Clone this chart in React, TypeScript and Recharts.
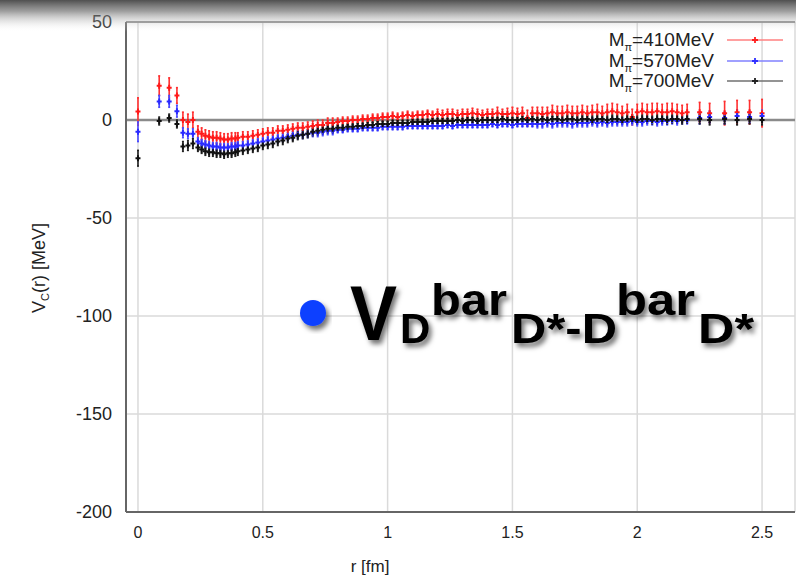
import { ScatterChart, Scatter, XAxis, YAxis, CartesianGrid, ErrorBar, ReferenceLine } from 'recharts'

// lattice distances r [fm], shared by the three ensembles
const rVals = [
  0, 0.085, 0.125, 0.156, 0.18, 0.2, 0.22, 0.24, 0.255, 0.27, 0.285, 0.3, 0.315, 0.33, 0.345, 0.36, 0.375, 0.39,
  0.4, 0.42, 0.44, 0.46, 0.48, 0.5, 0.52, 0.54, 0.56, 0.58,
  0.6, 0.62, 0.64, 0.66, 0.68, 0.7, 0.72, 0.74, 0.76, 0.78,
  0.8, 0.82, 0.84, 0.86, 0.88, 0.9, 0.92, 0.94, 0.96, 0.98,
  1.0, 1.02, 1.04, 1.06, 1.08, 1.1, 1.12, 1.14, 1.16, 1.18,
  1.2, 1.22, 1.24, 1.26, 1.28, 1.3, 1.32, 1.34, 1.36, 1.38,
  1.4, 1.42, 1.44, 1.46, 1.48, 1.5, 1.52, 1.54, 1.56, 1.58,
  1.6, 1.62, 1.64, 1.66, 1.68, 1.7, 1.72, 1.74, 1.76, 1.78,
  1.8, 1.82, 1.84, 1.86, 1.88, 1.9, 1.92, 1.94, 1.96, 1.98,
  2.0, 2.02, 2.04, 2.06, 2.08, 2.1, 2.12, 2.14, 2.16, 2.18,
  2.2, 2.25, 2.29, 2.35, 2.4, 2.45, 2.5,
]

// M_pi = 410 MeV
const v410 = [
  4.3, 17.5, 16.5, 12.5, 0, -1, 0, -6, -7, -8, -8.5, -9, -9, -9.5, -10, -10, -9.5, -9.5,
  -9, -8.5, -8.5, -8, -7.5, -7, -6.5, -6.5, -5.5, -5.5,
  -5, -4.5, -4, -4, -3.5, -3, -2.5, -2.5, -1.5, -1.5,
  -1, -0.5, -0.5, 0, 0, 0.5, 0.5, 1, 1, 1.5,
  1.5, 2, 1.5, 2, 2.5, 2, 2.5, 2.5, 3, 2.5,
  3, 2.5, 3, 3, 2.5, 3, 3, 3.5, 3, 2.5,
  3, 3, 3.5, 3, 3, 3.5, 3, 3.5, 1, 3.5,
  3.5, 3, 3.5, 4, 3.5, 3.5, 4, 3.5, 3.5, 4,
  3.5, 4, 4, 3.5, 4, 4.5, 4, 3.5, 4, 1.5,
  4, 4.5, 4, 4, 4.5, 4, 4, 4.5, 4, 3.5,
  4, 4, 3.5, 3.5, 4, 4, 3.5,
]
const e410 = [
  7, 5, 5, 4, 4, 4, 4, 3, 3, 3, 3, 3, 3, 3, 3, 3, 3, 3,
  2.5, 2.5, 2.5, 2.5, 2.5, 2.5, 2.5, 2.5, 2.5, 2.5,
  2.5, 2.5, 2.5, 2.5, 2.5, 2.5, 2.5, 2.5, 2.5, 2.5,
  2, 2, 2, 2, 2, 2, 2, 2, 2, 2,
  2, 2, 2, 2, 2, 2, 2, 2, 2, 2,
  2.5, 2.5, 2.5, 2.5, 2.5, 2.5, 2.5, 2.5, 2.5, 2.5,
  2.5, 2.5, 3, 2.5, 3, 3, 3, 3, 4, 3,
  3, 3.5, 3, 3.5, 3.5, 3.5, 3.5, 3.5, 3.5, 3.5,
  3.5, 3.5, 4, 3.5, 4, 4, 4, 3.5, 4, 4,
  4, 4, 4, 4.5, 4, 4, 4.5, 4, 4, 4,
  4, 5, 5, 6, 6, 6, 7,
]

// M_pi = 570 MeV
const v570 = [
  -6, 9.5, 9.5, 4.5, -6.5, -7, -7, -11, -12, -12.5, -13, -13.5, -13.5, -14, -14, -14, -13.5, -13.5,
  -13, -13, -12.5, -12, -11.5, -11, -10.5, -10, -9.5, -9,
  -8.5, -8, -7.5, -7.5, -7, -6.5, -6.5, -6, -5.5, -5.5,
  -5, -5, -4.5, -4.5, -4.5, -4, -4, -4, -4, -3.5,
  -3.5, -3.5, -3.5, -3.5, -3, -3, -3, -3, -3, -3,
  -3, -3, -2.5, -3, -2.5, -2.5, -2.5, -2.5, -2.5, -2.5,
  -2.5, -2, -2.5, -2, -2, -2.5, -2, -2, -2, -2,
  -2, -2, -1.5, -2, -1.5, -1.5, -1.5, -2, -1.5, -1.5,
  -1.5, -1, -1.5, -1, -1.5, -1, -1, -1, -1, -0.5,
  -1, -1, -0.5, -0.5, -1, -0.5, -0.5, 0, -0.5, 0,
  0, 1, 1.5, 1, 2, 1.5, 2,
]
const e570 = [
  5, 3, 3, 3, 2.5, 2.5, 2.5, 2, 2, 2, 2, 2, 2, 2, 2, 2, 2, 2,
  2, 2, 2, 2, 2, 2, 2, 2, 2, 2,
  2, 2, 2, 2, 2, 2, 2, 2, 2, 2,
  1.5, 1.5, 1.5, 1.5, 1.5, 1.5, 1.5, 1.5, 1.5, 1.5,
  1.5, 1.5, 1.5, 1.5, 1.5, 1.5, 1.5, 1.5, 1.5, 1.5,
  1.5, 1.5, 1.5, 1.5, 1.5, 1.5, 1.5, 1.5, 1.5, 1.5,
  1.5, 1.5, 1.5, 1.5, 1.5, 1.5, 1.5, 1.5, 1.5, 1.5,
  2, 2, 2, 2, 2, 2, 2, 2, 2, 2,
  2, 2, 2, 2, 2, 2, 2, 2, 2, 2,
  2, 2, 2, 2, 2, 2, 2, 2, 2, 2,
  2, 3, 3, 3, 3, 3, 3,
]

// M_pi = 700 MeV
const v700 = [
  -19.5, -0.5, 1, -2, -13.5, -13, -12, -14, -15, -16, -16.5, -16.5, -17, -17, -17.5, -17, -17, -16.5,
  -16, -15.5, -15, -14.5, -14, -13, -12.5, -12, -11, -10.5,
  -9.5, -9, -8, -7.5, -7, -6, -5.5, -5, -4.5, -4.5,
  -4, -4, -3.5, -3.5, -3, -3, -2.5, -2.5, -2, -2,
  -2, -1.5, -1.5, -1.5, -1.5, -1, -1, -1, -1, -0.5,
  -0.5, -0.5, -0.5, -0.5, 0, -0.5, 0, 0, -0.5, 0,
  0, 0, 0, 0.5, 0, 0, 0, 0.5, 0, 0.5,
  0, 0.5, 0, 0.5, 0.5, 0, 0.5, 0.5, 0, 0.5,
  0.5, 0, 0.5, 0.5, 0, 0.5, 0.5, 0, 0.5, 0.5,
  0, 0.5, 0.5, 0, 0.5, 0.5, 0, 0.5, 0.5, 0,
  0.5, 0.5, 0, 0.5, 0, 0.5, 0,
]
const e700 = [
  4, 2, 2, 2, 2.5, 2.5, 2.5, 2, 2, 2, 2, 2, 2, 2, 2, 2, 2, 2,
  2, 2, 2, 2, 2, 2, 2, 2, 2, 2,
  2, 2, 2, 2, 2, 2, 2, 2, 2, 2,
  1.5, 1.5, 1.5, 1.5, 1.5, 1.5, 1.5, 1.5, 1.5, 1.5,
  1.5, 1.5, 1.5, 1.5, 1.5, 1.5, 1.5, 1.5, 1.5, 1.5,
  1.5, 1.5, 1.5, 1.5, 1.5, 1.5, 1.5, 1.5, 1.5, 1.5,
  1.5, 1.5, 1.5, 1.5, 1.5, 1.5, 1.5, 1.5, 1.5, 1.5,
  1.5, 1.5, 1.5, 1.5, 2, 2, 2, 2, 2, 2,
  2, 2, 2, 2, 2, 2, 2, 2, 2, 2,
  2, 2, 2, 2, 2, 2, 2, 2, 2, 2,
  2, 2.5, 2.5, 2.5, 2.5, 2.5, 2.5,
]

const xTicks = [0, 0.5, 1, 1.5, 2, 2.5]
const yTicks = [50, 0, -50, -100, -150, -200]

const FONT = '"Liberation Sans", Arial, Helvetica, sans-serif'

const toRows = (vals: number[], errs: number[]) =>
  rVals.map((r, i) => ({ r, v: vals[i], e: errs[i] }))

const plusShape = (color: string) => (props: any) => {
  const { cx, cy } = props
  if (cx == null || cy == null) return <g />
  return (
    <path
      d={`M${cx - 2.5},${cy}h5M${cx},${cy - 3}v6`}
      stroke={color}
      strokeWidth={2}
      fill="none"
    />
  )
}

function Overlay() {
  return (
    <svg
      width={796}
      height={579}
      style={{ position: 'absolute', left: 0, top: 0, pointerEvents: 'none' }}
    >
      <defs>
        <linearGradient id="topShade" x1="0" y1="0" x2="0" y2="1">
          <stop offset="0" stopColor="#3c3c3c" stopOpacity={0.9} />
          <stop offset="0.35" stopColor="#6a6a6a" stopOpacity={0.65} />
          <stop offset="1" stopColor="#ffffff" stopOpacity={0} />
        </linearGradient>
        <filter id="shadow" x="-20%" y="-20%" width="140%" height="150%">
          <feDropShadow dx="3" dy="4" stdDeviation="2.5" floodColor="#000" floodOpacity="0.55" />
        </filter>
      </defs>
      <rect x={0} y={0} width={796} height={32} fill="url(#topShade)" />

      {/* axis titles */}
      <text x={370} y={572} textAnchor="middle" fontSize={17} fontFamily={FONT} fill="#222">
        r [fm]
      </text>
      <text
        transform="translate(45,268) rotate(-90)"
        textAnchor="middle"
        fontSize={18}
        fontFamily={FONT}
        fill="#222"
      >
        V<tspan fontSize={11} dy={4}>C</tspan>
        <tspan dy={-4}>(r) [MeV]</tspan>
      </text>

      {/* key */}
      {[
        { label: '410MeV', color: '#ff2020', line: '#ff8080', y: 46 },
        { label: '570MeV', color: '#3030ff', line: '#8080ff', y: 67 },
        { label: '700MeV', color: '#202020', line: '#707070', y: 87 },
      ].map((k) => (
        <g key={k.label}>
          <text x={714} y={k.y} textAnchor="end" fontSize={19} fontFamily={FONT} fill="#222">
            M<tspan fontSize={11} dy={5}>π</tspan>
            <tspan dy={-5}>={k.label}</tspan>
          </text>
          <line x1={727} x2={783} y1={k.y - 6} y2={k.y - 6} stroke={k.line} strokeWidth={1.5} />
          <path
            d={`M${752},${k.y - 6}h6M${755},${k.y - 9}v6`}
            stroke={k.color}
            strokeWidth={1.8}
          />
        </g>
      ))}

      {/* slide annotation */}
      <circle cx={313} cy={313} r={13} fill="#1040ff" filter="url(#shadow)" />
      <g fontFamily={FONT} fontWeight={700} fill="#000" filter="url(#shadow)">
        <text x={350} y={340} fontSize={78} textLength={47} lengthAdjust="spacingAndGlyphs">V</text>
        <text x={400} y={343} fontSize={42}>D</text>
        <text x={431} y={315} fontSize={45} textLength={76} lengthAdjust="spacingAndGlyphs">bar</text>
        <text x={511} y={343} fontSize={42} textLength={106} lengthAdjust="spacingAndGlyphs">D*-D</text>
        <text x={616} y={315} fontSize={45} textLength={79} lengthAdjust="spacingAndGlyphs">bar</text>
        <text x={698} y={343} fontSize={42} textLength={56} lengthAdjust="spacingAndGlyphs">D*</text>
      </g>
    </svg>
  )
}

export default function App() {
  const red = toRows(v410, e410)
  const blue = toRows(v570, e570)
  const black = toRows(v700, e700)

  return (
    <div style={{ position: 'absolute', left: 0, top: 0, width: 796, height: 579, background: '#fff' }}>
      <ScatterChart width={796} height={579} margin={{ top: 22, right: 1, bottom: 0, left: 0 }}>
        <CartesianGrid stroke="#dadada" strokeWidth={1.5} />
        <XAxis
          type="number"
          dataKey="r"
          domain={[-0.048, 2.632]}
          ticks={xTicks}
          allowDataOverflow
          height={67}
          tickLine={false}
          tickMargin={9}
          axisLine={{ stroke: '#666', strokeWidth: 2 }}
          tick={{ fontSize: 16, fill: '#222', fontFamily: FONT }}
        />
        <YAxis
          type="number"
          dataKey="v"
          domain={[-200, 50]}
          ticks={yTicks}
          allowDataOverflow
          width={126}
          tickLine={false}
          tickMargin={8}
          axisLine={{ stroke: '#666', strokeWidth: 2 }}
          tick={{ fontSize: 18, fill: '#222', fontFamily: FONT }}
        />
        <ReferenceLine y={50} stroke="#777" strokeWidth={1.5} />
        <ReferenceLine y={0} stroke="#8a8a8a" strokeWidth={2.5} />
        <Scatter name="410MeV" data={red} shape={plusShape('#ff1a1a')} isAnimationActive={false}>
          <ErrorBar dataKey="e" direction="y" width={1} stroke="#ff3030" strokeWidth={1.6} />
        </Scatter>
        <Scatter name="570MeV" data={blue} shape={plusShape('#2a2aff')} isAnimationActive={false}>
          <ErrorBar dataKey="e" direction="y" width={1} stroke="#4a4aff" strokeWidth={1.6} />
        </Scatter>
        <Scatter name="700MeV" data={black} shape={plusShape('#111')} isAnimationActive={false}>
          <ErrorBar dataKey="e" direction="y" width={1} stroke="#222" strokeWidth={1.6} />
        </Scatter>
      </ScatterChart>
      <Overlay />
    </div>
  )
}
